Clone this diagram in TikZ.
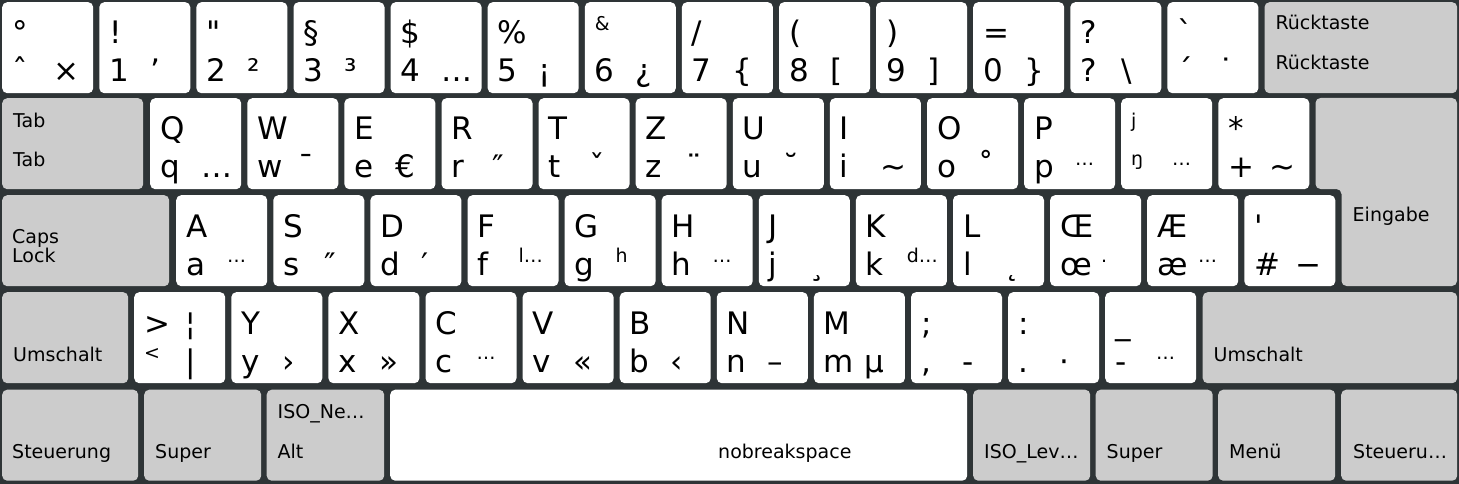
\documentclass[tikz,border=0pt]{standalone}
\usepackage{fontspec}
\setmainfont{DejaVu Sans}
\newfontfamily\rawfont{DejaVu Sans}
\definecolor{bgdark}{RGB}{46,52,54}
\definecolor{modgray}{RGB}{204,204,204}
\newcommand{\bigfont}{\fontsize{31}{36}\selectfont}
\newcommand{\smfont}{\fontsize{19}{22}\selectfont}
\newcommand{\sm}[1]{\raisebox{13pt}{\smfont #1}}
\tikzset{
  keycap/.style={rectangle, rounded corners=5pt, fill=white, minimum width=91pt, minimum height=91pt, inner sep=0pt, anchor=north west},
  modcap/.style={keycap, fill=modgray},
  glyph/.style={anchor=base west, inner sep=0pt, font=\bigfont},
  modtext/.style={anchor=base west, inner sep=0pt, font=\smfont},
}
% tasto con tre simboli: nome, x, y, sopra, sotto, destra
\newcommand{\charkey}[6]{%
  \node[keycap] (#1) at (#2,#3) {};
  \node[glyph] (#1-up) at ([shift={(10,42)}]#1.north west) {#4};
  \node[glyph] (#1-lo) at ([shift={(10,80)}]#1.north west) {#5};
  \node[glyph] (#1-rt) at ([shift={(51,80)}]#1.north west) {#6};
}
% tasto grigio: nome, x, y, larghezza
\newcommand{\modkey}[4]{%
  \node[modcap, minimum width=#4pt] (#1) at (#2,#3) {};
}
\begin{document}
\begin{tikzpicture}[x=1pt, y=-1pt]
    \useasboundingbox (0,0) rectangle (1459,484);
    \fill[bgdark] (0,0) rectangle (1459,484);
    % Prima fila
    \charkey{kcirc}{2}{2}{°}{ˆ}{×}
    \charkey{kone}{99.1}{2}{!}{1}{’}
    \charkey{ktwo}{196.2}{2}{{\rawfont"}}{2}{²}
    \charkey{kthree}{293.3}{2}{§}{3}{³}
    \charkey{kfour}{390.4}{2}{\$}{4}{…}
    \charkey{kfive}{487.5}{2}{\%}{5}{¡}
    \charkey{ksix}{584.6}{2}{\sm{\&}}{6}{¿}
    \charkey{kseven}{681.7}{2}{/}{7}{\{}
    \charkey{keight}{778.8}{2}{(}{8}{[}
    \charkey{knine}{875.9}{2}{)}{9}{]}
    \charkey{kzero}{973}{2}{=}{0}{\}}
    \charkey{ksz}{1070.1}{2}{?}{?}{\textbackslash}
    \charkey{kacute}{1167.2}{2}{{\rawfont`}}{´}{˙}
    \modkey{kback}{1264.3}{2}{192.7}
    \node[modtext] (kback-up) at ([shift={(11,28)}]kback.north west) {Rücktaste};
    \node[modtext] (kback-lo) at ([shift={(11,68)}]kback.north west) {Rücktaste};
    % Seconda fila
    \modkey{ktab}{2}{98}{141}
    \node[modtext] (ktab-up) at ([shift={(11,30)}]ktab.north west) {Tab};
    \node[modtext] (ktab-lo) at ([shift={(11,69)}]ktab.north west) {Tab};
    \charkey{kq}{150}{98}{Q}{q}{…}
    \charkey{kw}{247.1}{98}{W}{w}{ˉ}
    \charkey{ke}{344.2}{98}{E}{e}{€}
    \charkey{kr}{441.3}{98}{R}{r}{″}
    \charkey{kt}{538.4}{98}{T}{t}{ˇ}
    \charkey{kz}{635.5}{98}{Z}{z}{¨}
    \charkey{ku}{732.6}{98}{U}{u}{˘}
    \charkey{ki}{829.7}{98}{I}{i}{∼}
    \charkey{ko}{926.8}{98}{O}{o}{˚}
    \charkey{kp}{1023.9}{98}{P}{p}{\sm{…}}
    \charkey{kue}{1121}{98}{\sm{j}}{\sm{ŋ}}{\sm{…}}
    \charkey{kplus}{1218.1}{98}{*}{+}{∼}
    % Invio
    \fill[modgray, rounded corners=5pt] (1315.5,98) -- (1457,98) -- (1457,286) -- (1341.5,286)
        -- (1341.5,189) -- (1315.5,189) -- cycle;
    \coordinate (kenter) at (1341.5,195);
    \node[modtext] (kenter-txt) at ([shift={(11,26)}]kenter) {Eingabe};
    % Terza fila
    \modkey{kcaps}{2}{195}{167}
    \node[modtext] (kcaps-up) at ([shift={(10,48)}]kcaps.north west) {Caps};
    \node[modtext] (kcaps-lo) at ([shift={(10,67)}]kcaps.north west) {Lock};
    \charkey{ka}{176}{195}{A}{a}{\sm{…}}
    \charkey{ks}{273.1}{195}{S}{s}{″}
    \charkey{kd}{370.2}{195}{D}{d}{′}
    \charkey{kf}{467.3}{195}{F}{f}{\sm{l…}}
    \charkey{kg}{564.4}{195}{G}{g}{\sm{h}}
    \charkey{kh}{661.5}{195}{H}{h}{\sm{…}}
    \charkey{kj}{758.6}{195}{J}{j}{¸}
    \charkey{kk}{855.7}{195}{K}{k}{\sm{d…}}
    \charkey{kl}{952.8}{195}{L}{l}{˛}
    \charkey{koe}{1049.9}{195}{Œ}{œ}{\sm{.}}
    \charkey{kae}{1147}{195}{Æ}{æ}{\sm{…}}
    \charkey{khash}{1244.1}{195}{{\rawfont'}}{\#}{−}
    % Quarta fila
    \modkey{kshiftl}{2}{292}{126}
    \node[modtext] (kshiftl-txt) at ([shift={(11,69)}]kshiftl.north west) {Umschalt};
    \charkey{kless}{134}{292}{>}{\sm{<}}{|}
    \node[glyph] (kless-tr) at ([shift={(51,42)}]kless.north west) {¦};
    \charkey{ky}{231.1}{292}{Y}{y}{›}
    \charkey{kx}{328.2}{292}{X}{x}{»}
    \charkey{kc}{425.3}{292}{C}{c}{\sm{…}}
    \charkey{kv}{522.4}{292}{V}{v}{«}
    \charkey{kb}{619.5}{292}{B}{b}{‹}
    \charkey{kn}{716.6}{292}{N}{n}{–}
    \charkey{km}{813.7}{292}{M}{m}{µ}
    \charkey{kcomma}{910.8}{292}{;}{,}{-}
    \charkey{kdot}{1007.9}{292}{:}{.}{·}
    \charkey{kminus}{1105}{292}{\_}{-}{\sm{…}}
    \modkey{kshiftr}{1202.5}{292}{254.5}
    \node[modtext] (kshiftr-txt) at ([shift={(11,69)}]kshiftr.north west) {Umschalt};
    % Quinta fila
    \modkey{kctrll}{2}{389.5}{136}
    \node[modtext] (kctrll-txt) at ([shift={(10,69)}]kctrll.north west) {Steuerung};
    \modkey{ksuperl}{144}{389.5}{117}
    \node[modtext] (ksuperl-txt) at ([shift={(11,69)}]ksuperl.north west) {Super};
    \modkey{kalt}{266.5}{389.5}{117.5}
    \node[modtext] (kalt-up) at ([shift={(11,29)}]kalt.north west) {ISO\_Ne…};
    \node[modtext] (kalt-lo) at ([shift={(11,69)}]kalt.north west) {Alt};
    \node[keycap, minimum width=577pt] (kspace) at (390,389.5) {};
    \node[modtext] (kspace-txt) at ([shift={(328,69)}]kspace.north west) {nobreakspace};
    \modkey{kaltgr}{973}{389.5}{117}
    \node[modtext] (kaltgr-txt) at ([shift={(11,69)}]kaltgr.north west) {ISO\_Lev…};
    \modkey{ksuperr}{1095.5}{389.5}{117}
    \node[modtext] (ksuperr-txt) at ([shift={(11,69)}]ksuperr.north west) {Super};
    \modkey{kmenu}{1218}{389.5}{117}
    \node[modtext] (kmenu-txt) at ([shift={(11,69)}]kmenu.north west) {Menü};
    \modkey{kctrlr}{1341}{389.5}{116}
    \node[modtext] (kctrlr-txt) at ([shift={(12,69)}]kctrlr.north west) {Steueru…};
\end{tikzpicture}
\end{document}
